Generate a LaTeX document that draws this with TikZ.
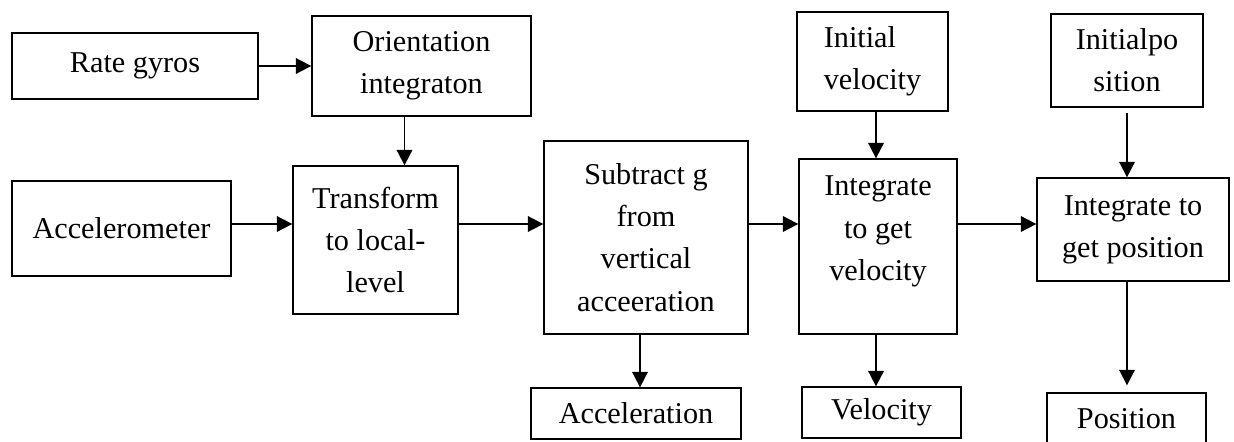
\documentclass[tikz,border=0pt]{standalone}
\usepackage{fontspec}
\setmainfont{Liberation Serif}
\usetikzlibrary{calc, positioning, arrows.meta}

\begin{document}
\begin{tikzpicture}[
    x=0.025cm, y=-0.025cm,
    blk/.style 2 args={draw, line width=0.9pt, inner sep=0pt, align=center,
      minimum width=#1cm, minimum height=#2cm,
      font=\fontsize{21.5}{30}\selectfont},
    arr/.style={-{Triangle[length=11pt, width=11pt]}, line width=1.3pt},
  ]

  \clip (0,0) rectangle (1234,441);

  \coordinate (row) at (0,224);

  \node[blk={6.15}{1.65}] (rate) at (135,66) {Rate gyros};
  \node[blk={5.475}{2.5}] (orient) at (421.5,66) {Orientation\\integraton};
  \node[blk={5.475}{2.375}] (accel) at (121.5,228.5) {Accelerometer};
  \node[blk={4.125}{3.7}] (transform) at (375.5,240) {Transform\\to local-\\level};
  \node[blk={5.1}{4.825}] (subtract) at (646,237.5) {Subtract g\\from\\vertical\\acceeration};
  \node[blk={3.775}{2.475}, align=left] (ivel) at (872.5,61.5) {Initial\\velocity};
  \node[blk={3.95}{4.375}, text depth=26pt] (intvel) at (878,246.5) {Integrate\\to get\\velocity};
  \node[blk={3.8}{2.325}] (ipos) at (1127,60.5) {Initialpo\\sition};
  \node[blk={4.8}{2.575}] (intpos) at (1133,229.5) {Integrate to\\get position};
  \node[blk={5.25}{1.275}] (acc) at (636,413.5) {Acceleration};
  \node[blk={3.975}{1.275}] (vel) at (881.5,412.5) {Velocity};
  \node[blk={3.975}{1.675}, text depth=12pt] (pos) at (1126.5,426.5) {Position};

  \coordinate (o1) at ($(orient.south)+(-17,0)$);
  \coordinate (s1) at ($(subtract.south)+(-6,0)$);
  \coordinate (v1) at ($(ivel.south)+(3.5,0)$);
  \coordinate (v2) at ($(intvel.south)+(-2,0)$);

  \draw[arr] (rate.east) -- (orient.west);
  \draw[arr] (o1) -- (o1 |- transform.north);
  \draw[arr] (accel.east |- row) -- (transform.west |- row);
  \draw[arr] (transform.east |- row) -- (subtract.west |- row);
  \draw[arr] (subtract.east |- row) -- (intvel.west |- row);
  \draw[arr] (intvel.east |- row) -- (intpos.west |- row);

  \draw[arr] (s1) -- (s1 |- acc.north);
  \draw[arr] (v1) -- (v1 |- intvel.north);
  \draw[arr] (v2) -- (v2 |- vel.north);
  \draw[arr, shorten <=4pt] (ipos.south) -- (ipos.south |- intpos.north);
  \draw[arr, shorten >=5pt] (intpos.south -| ipos.south) -- (ipos.south |- pos.north);
\end{tikzpicture}
\end{document}
